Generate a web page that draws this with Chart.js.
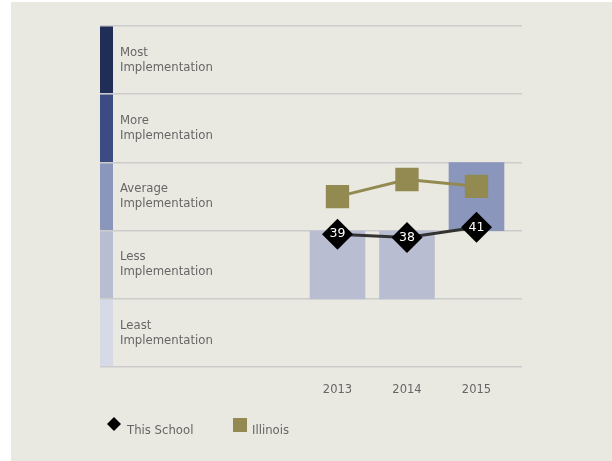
<!DOCTYPE html>
<html>
<head>
<meta charset="utf-8">
<script src="https://cdn.jsdelivr.net/npm/chart.js@4"></script>
<style>
  body { margin: 0; background: #fff; }
  #wrap { position: absolute; left: 11px; top: 2px; width: 601px; height: 459px; background: #EAE9E1; }
</style>
</head>
<body>
<div id="wrap"><canvas id="myChart" width="601" height="459"></canvas></div>
<script>
var years = [2013, 2014, 2015];
var school = [39, 38, 41];
var illinois = [50, 55, 53];

var bandEdges = [0, 20, 40, 60, 80, 100];
var bandNames = [
    ['Least', 'Implementation'],
    ['Less', 'Implementation'],
    ['Average', 'Implementation'],
    ['More', 'Implementation'],
    ['Most', 'Implementation']
];
var bandColors = ['#D6D9E6', '#B9BDD1', '#8A96BB', '#3C4C82', '#1F2D57'];

function bandOf(v) {
    for (var i = 0; i < bandEdges.length - 1; i++) {
        if (v < bandEdges[i + 1]) return i;
    }
    return bandEdges.length - 2;
}

var bandBars = years.map(function (yr, i) {
    var b = bandOf(school[i]);
    return { x: yr, y: [bandEdges[b], bandEdges[b + 1]] };
});
var bandBarColors = school.map(function (v) { return bandColors[bandOf(v)]; });

var labelFont = '11.7px "DejaVu Sans"';
var textColor = '#666';

var bandsPlugin = {
    id: 'bands',
    beforeDraw: function (chart) {
        var c = chart.ctx, y = chart.scales.y, a = chart.chartArea;
        c.save();
        for (var i = 0; i < bandNames.length; i++) {
            var top = y.getPixelForValue(bandEdges[i + 1]);
            var bot = y.getPixelForValue(bandEdges[i]);
            c.fillStyle = bandColors[i];
            c.fillRect(a.left, top, 13, bot - top);
            c.fillStyle = textColor;
            c.font = labelFont;
            c.textBaseline = 'middle';
            var mid = (top + bot) / 2;
            c.fillText(bandNames[i][0], a.left + 20, mid - 7.5);
            c.fillText(bandNames[i][1], a.left + 20, mid + 7.5);
        }
        c.restore();
    },
    afterDatasetsDraw: function (chart) {
        var c = chart.ctx;
        var meta = chart.getDatasetMeta(2);
        c.save();
        c.fillStyle = '#fff';
        c.font = '12.5px "DejaVu Sans"';
        c.textAlign = 'center';
        c.textBaseline = 'middle';
        meta.data.forEach(function (pt, i) {
            c.fillText(String(school[i]), pt.x, pt.y);
        });
        c.restore();
    },
    afterDraw: function (chart) {
        var c = chart.ctx;
        c.save();
        // legend
        c.fillStyle = '#000';
        c.beginPath();
        c.moveTo(103, 415); c.lineTo(110, 422); c.lineTo(103, 429); c.lineTo(96, 422);
        c.closePath(); c.fill();
        c.fillStyle = '#938A52';
        c.fillRect(222, 416, 14, 14);
        c.fillStyle = textColor;
        c.font = labelFont;
        c.textBaseline = 'middle';
        c.fillText('This School', 116, 429);
        c.fillText('Illinois', 241, 429);
        c.restore();
    }
};

var ctx = document.getElementById('myChart').getContext('2d');
var myChart = new Chart(ctx, {
    data: {
        datasets: [
            {
                type: 'bar',
                label: 'Band',
                data: bandBars,
                backgroundColor: bandBarColors,
                barThickness: 55,
                order: 3
            },
            {
                type: 'line',
                label: 'Illinois',
                data: years.map(function (yr, i) { return { x: yr, y: illinois[i] }; }),
                borderColor: '#938A52',
                backgroundColor: '#938A52',
                pointBorderWidth: 0,
                borderWidth: 3,
                pointStyle: 'rect',
                pointRadius: 16.5,
                pointHoverRadius: 16.5,
                tension: 0,
                order: 2
            },
            {
                type: 'line',
                label: 'This School',
                data: years.map(function (yr, i) { return { x: yr, y: school[i] }; }),
                borderColor: '#333',
                backgroundColor: '#000',
                pointBorderColor: '#000',
                pointBorderWidth: 0,
                borderWidth: 3,
                pointStyle: 'rectRot',
                pointRadius: 15.5,
                pointHoverRadius: 15.5,
                tension: 0,
                order: 1
            }
        ]
    },
    options: {
        responsive: false,
        animation: false,
        layout: { padding: { left: 89, right: 90, top: 24, bottom: 48 } },
        plugins: {
            legend: { display: false },
            tooltip: { enabled: false }
        },
        scales: {
            x: {
                type: 'linear',
                offset: false,
                min: 2009.583,
                max: 2015.655,
                afterBuildTicks: function (axis) {
                    axis.ticks = years.map(function (v) { return { value: v }; });
                },
                ticks: {
                    callback: function (v) { return String(v); },
                    font: { family: 'DejaVu Sans', size: 11.5 },
                    color: textColor,
                    padding: 16,
                    maxRotation: 0
                },
                grid: { display: false, drawTicks: false },
                border: { display: false }
            },
            y: {
                min: 0,
                max: 100,
                ticks: { display: false, stepSize: 20 },
                grid: { color: '#CDCCCC', lineWidth: 1.5, drawTicks: false },
                border: { display: false }
            }
        }
    },
    plugins: [bandsPlugin]
});
</script>
</body>
</html>
